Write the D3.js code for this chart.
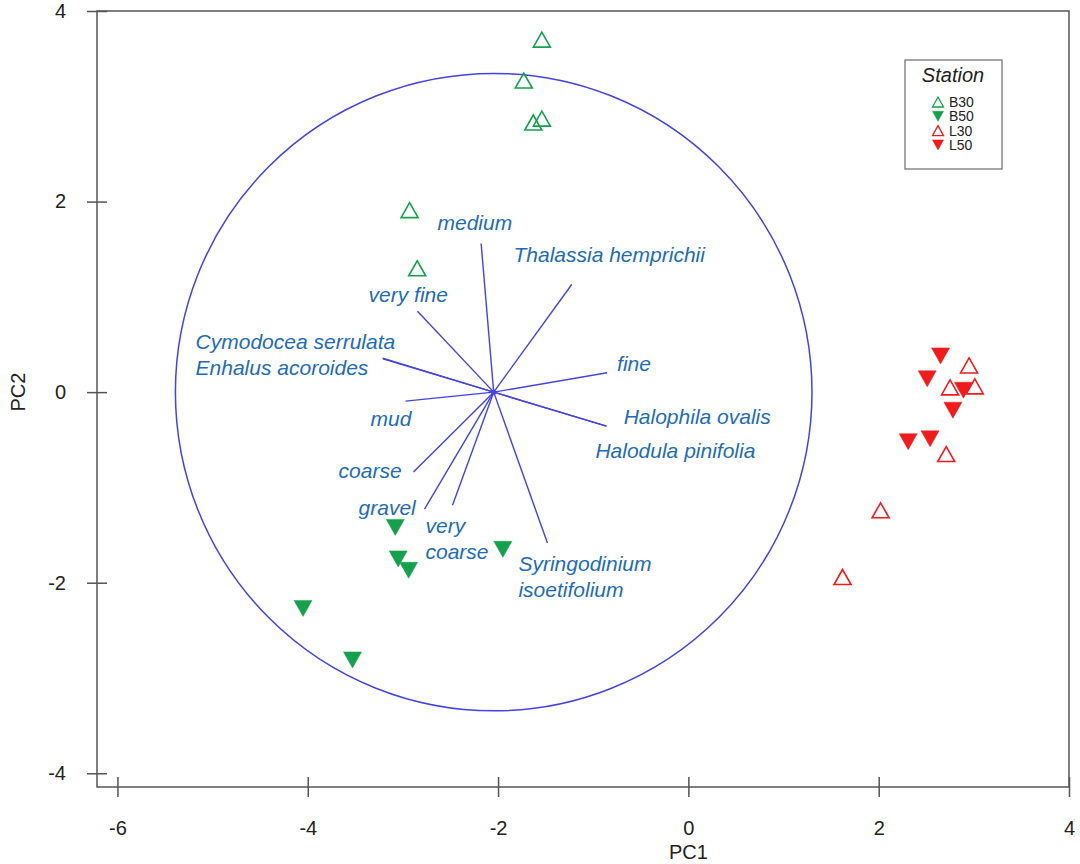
<!DOCTYPE html>
<html>
<head>
<meta charset="utf-8">
<script src="https://cdn.jsdelivr.net/npm/d3@7"></script>
<style>
  body { margin: 0; background: #fff; }
  text { font-family: "Liberation Sans", Arial, Helvetica, sans-serif; }
</style>
</head>
<body>
<div id="chart"></div>
<script>
// station scores (PC1, PC2)
var stations = ["B30", "B50", "L30", "L50"];
var b30 = [[-1.54, 3.70], [-1.73, 3.27], [-1.63, 2.83], [-1.54, 2.87], [-2.93, 1.91], [-2.85, 1.30]];
var b50 = [[-3.08, -1.42], [-3.05, -1.75], [-2.94, -1.87], [-1.95, -1.65], [-4.05, -2.27], [-3.53, -2.81]];
var l30 = [[2.95, 0.28], [2.75, 0.05], [3.01, 0.06], [2.71, -0.65], [2.02, -1.24], [1.62, -1.94]];
var l50 = [[2.65, 0.38], [2.51, 0.14], [2.89, 0.02], [2.78, -0.19], [2.31, -0.52], [2.54, -0.49]];

// biplot vectors
var vecOrigin = [-2.046, 0];
var vecNames = ["medium", "Thalassia hemprichii", "very fine", "Cymodocea serrulata", "Enhalus acoroides",
  "mud", "fine", "Halophila ovalis", "Halodula pinifolia", "coarse", "gravel", "very coarse",
  "Syringodinium isoetifolium"];
var vecX = [-2.178, -1.226, -2.847, -3.214, -3.210, -2.973, -0.854, -0.861, -0.861, -2.889, -2.773, -2.479, -1.481];
var vecY = [1.560, 1.130, 0.850, 0.357, 0.350, -0.094, 0.203, -0.357, -0.357, -0.839, -1.228, -1.186, -1.584];
var circleR = 3.345;

var xTicks = [-6, -4, -2, 0, 2, 4];
var yTicks = [-4, -2, 0, 2, 4];

// label placement (data units: left x, middle y), one entry per vector
var labelLines = [["medium"], ["Thalassia hemprichii"], ["very fine"], ["Cymodocea serrulata"], ["Enhalus acoroides"],
  ["mud"], ["fine"], ["Halophila ovalis"], ["Halodula pinifolia"], ["coarse"], ["gravel"], ["very", "coarse"],
  ["Syringodinium", "isoetifolium"]];
var labelX = [-2.637, -1.838, -3.361, -5.179, -5.179, -3.340, -0.749, -0.680, -0.977, -3.676, -3.466, -2.763, -1.786];
var labelY = [1.784, 1.438, 1.018, 0.528, 0.252, -0.273, 0.301, -0.259, -0.619, -0.826, -1.217, -1.396, -1.805];

var width = 1080, height = 864;
var green = "#14a04c", red = "#ee1c1c";
var labelColor = "#1f6cb3", vecColor = "#4343e0";

var svg = d3.select("#chart").append("svg")
  .attr("width", width)
  .attr("height", height);

var x = d3.scaleLinear().domain([-6.215, 4]).range([97, 1069]);
var y = d3.scaleLinear().domain([-4.144, 4]).range([787, 11]);

/* frame */
svg.append("rect")
  .attr("x", x(-6.215)).attr("y", y(4))
  .attr("width", x(4) - x(-6.215)).attr("height", y(-4.144) - y(4))
  .attr("fill", "none").attr("stroke", "#555").attr("stroke-width", 1.5);

/* axes, ticks cross the frame */
var xAxis = svg.append("g")
  .attr("transform", "translate(0," + (y(-4.144) - 10) + ")")
  .call(d3.axisBottom(x).tickValues(xTicks).tickSizeInner(20).tickSizeOuter(0).tickPadding(24).tickFormat(d3.format("d")));
var yAxis = svg.append("g")
  .attr("transform", "translate(" + (x(-6.215) + 10) + ",0)")
  .call(d3.axisLeft(y).tickValues(yTicks).tickSizeInner(20).tickSizeOuter(0).tickPadding(21).tickFormat(d3.format("d")));
[xAxis, yAxis].forEach(function(a) {
  a.select(".domain").remove();
  a.selectAll("line").attr("stroke", "#555").attr("stroke-width", 1.5);
  a.selectAll("text").attr("font-size", 20).attr("fill", "#222")
    .style("font-family", "'Liberation Sans', Arial, sans-serif")
    .text(function(d) { return d < 0 ? "-" + Math.abs(d) : d; });
});

svg.append("text").attr("x", x(0)).attr("y", 859).attr("text-anchor", "middle")
  .attr("font-size", 20).attr("fill", "#222").text("PC1");
svg.append("text").attr("transform", "translate(25," + y(0) + ") rotate(-90)").attr("text-anchor", "middle")
  .attr("font-size", 20).attr("fill", "#222").text("PC2");

/* correlation circle */
svg.append("ellipse")
  .attr("cx", x(vecOrigin[0])).attr("cy", y(vecOrigin[1]))
  .attr("rx", x(vecOrigin[0] + circleR) - x(vecOrigin[0]))
  .attr("ry", y(vecOrigin[1]) - y(vecOrigin[1] + circleR))
  .attr("fill", "none").attr("stroke", vecColor).attr("stroke-width", 1.5);

/* vectors */
svg.append("g").selectAll("line")
  .data(vecNames).enter().append("line")
  .attr("x1", x(vecOrigin[0])).attr("y1", y(vecOrigin[1]))
  .attr("x2", function(d, i) { return x(vecX[i]); })
  .attr("y2", function(d, i) { return y(vecY[i]); })
  .attr("stroke", vecColor).attr("stroke-width", 1.4);

svg.append("circle").attr("cx", x(vecOrigin[0])).attr("cy", y(vecOrigin[1])).attr("r", 2.5).attr("fill", vecColor);

/* vector labels */
svg.append("g").selectAll("text")
  .data(vecNames).enter().append("text")
  .attr("font-size", 21).attr("font-style", "italic").attr("fill", labelColor)
  .each(function(d, i) {
    var t = d3.select(this);
    labelLines[i].forEach(function(s, k) {
      t.append("tspan").attr("x", x(labelX[i])).attr("y", y(labelY[i]) + k * 26).attr("dy", "0.35em").text(s);
    });
  });

/* station markers */
function tri(w, h, up) {
  var hw = w / 2, hh = h / 2;
  return up
    ? "M0," + (-hh) + "L" + hw + "," + hh + "L" + (-hw) + "," + hh + "Z"
    : "M0," + hh + "L" + hw + "," + (-hh) + "L" + (-hw) + "," + (-hh) + "Z";
}
var groups = [
  {pts: b30, color: green, up: true},
  {pts: b50, color: green, up: false},
  {pts: l30, color: red, up: true},
  {pts: l50, color: red, up: false}
];
groups.forEach(function(g) {
  svg.append("g").selectAll("path")
    .data(g.pts).enter().append("path")
    .attr("transform", function(d) { return "translate(" + x(d[0]) + "," + y(d[1]) + ")"; })
    .attr("d", g.up ? tri(17, 15, true) : tri(18, 16, false))
    .attr("fill", g.up ? "none" : g.color)
    .attr("stroke", g.color)
    .attr("stroke-width", g.up ? 1.6 : 0.5)
    .attr("stroke-linejoin", "miter");
});

/* legend */
var lg = svg.append("g");
lg.append("rect").attr("x", 905).attr("y", 60).attr("width", 97).attr("height", 109)
  .attr("fill", "#fff").attr("stroke", "#777").attr("stroke-width", 1.3);
lg.append("text").attr("x", 953).attr("y", 82).attr("text-anchor", "middle")
  .attr("font-size", 20).attr("font-style", "italic").attr("fill", "#222").text("Station");
stations.forEach(function(s, i) {
  var g = groups[i];
  var cy = 102 + i * 14.3;
  lg.append("path")
    .attr("transform", "translate(938," + cy + ")")
    .attr("d", g.up ? tri(11, 10, true) : tri(11, 10, false))
    .attr("fill", g.up ? "none" : g.color)
    .attr("stroke", g.color).attr("stroke-width", g.up ? 1.3 : 0.5);
  lg.append("text").attr("x", 949).attr("y", cy).attr("dy", "0.36em")
    .attr("font-size", 14).attr("fill", "#222").text(s);
});
</script>
</body>
</html>
